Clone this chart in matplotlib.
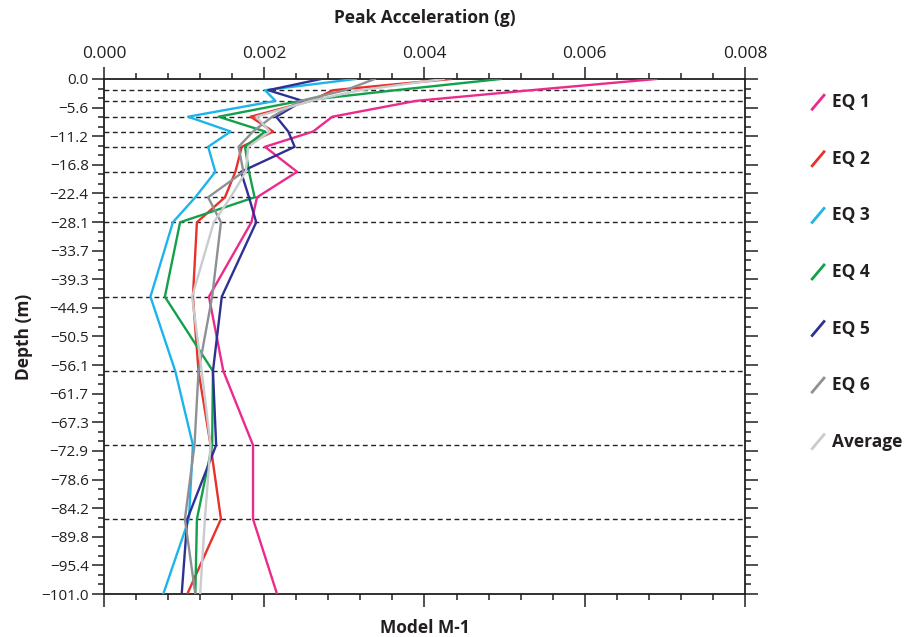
import numpy as np
import matplotlib.pyplot as plt
from matplotlib.lines import Line2D
from matplotlib.ticker import MultipleLocator, FixedLocator

# layer boundary depths (m) where the accelerations are recorded
depth = [0.0, -2.2, -4.3, -7.4, -10.3, -13.3, -18.2, -23.2, -28.1,
         -42.7, -57.3, -71.8, -86.3, -101.0]

# peak acceleration (g) at each depth
eq1 = [0.00689, 0.00533, 0.00389, 0.00285, 0.00261, 0.00201, 0.00241,
       0.00191, 0.00184, 0.00131, 0.00149, 0.00186, 0.00186, 0.00216]
eq2 = [0.00433, 0.00286, 0.00258, 0.00183, 0.00211, 0.00172, 0.00164,
       0.00151, 0.00116, 0.00111, 0.00118, 0.00133, 0.00146, 0.00104]
eq3 = [0.00314, 0.00201, 0.00214, 0.00105, 0.00158, 0.00130, 0.00139,
       0.00114, 0.00086, 0.00058, 0.00089, 0.00111, 0.00106, 0.00074]
eq4 = [0.00495, 0.00364, 0.00245, 0.00143, 0.00201, 0.00176, 0.00181,
       0.00188, 0.00095, 0.00076, 0.00136, 0.00135, 0.00116, 0.00114]
eq5 = [0.00271, 0.00205, 0.00248, 0.00215, 0.00230, 0.00238, 0.00171,
       0.00181, 0.00190, 0.00147, 0.00136, 0.00140, 0.00104, 0.00097]
eq6 = [0.00338, 0.00301, 0.00245, 0.00210, 0.00186, 0.00168, 0.00174,
       0.00130, 0.00146, 0.00135, 0.00118, 0.00113, 0.00101, 0.00114]
avg = [0.00424, 0.00320, 0.00258, 0.00190, 0.00207, 0.00180, 0.00177,
       0.00158, 0.00137, 0.00110, 0.00122, 0.00133, 0.00126, 0.00120]

names = ['EQ 1', 'EQ 2', 'EQ 3', 'EQ 4', 'EQ 5', 'EQ 6', 'Average']
series = [eq1, eq2, eq3, eq4, eq5, eq6, avg]
colors = ['#EC2A8C', '#E8312A', '#1DB4EA', '#12A04B', '#2E3192',
          '#8D9094', '#C9CBCE']

depth_ticks = ['0.0', '\u22125.6', '\u221211.2', '\u221216.8', '\u221222.4',
               '\u221228.1', '\u221233.7', '\u221239.3', '\u221244.9',
               '\u221250.5', '\u221256.1', '\u221261.7', '\u221267.3',
               '\u221272.9', '\u221278.6', '\u221284.2', '\u221289.8',
               '\u221295.4', '\u2212101.0']

plt.rcParams['font.family'] = ['Open Sans', 'DejaVu Sans']
txt = '#231F20'

fig = plt.figure(figsize=(9.08, 6.37), dpi=100)
ax = fig.add_axes([0.1145, 0.0675, 0.706, 0.8085])

# layer boundaries
for d in depth[1:-1]:
    ax.axhline(d, color='#222222', lw=1.0, ls=(0, (3.5, 2.5)), zorder=1)

for vals, c, n in zip(series, colors, names):
    ax.plot(vals, depth, color=c, lw=1.7, label=n, zorder=3)

ax.set_xlim(0, 0.008)
ax.set_ylim(-101.0, 0.0)

ax.xaxis.set_major_locator(MultipleLocator(0.002))
ax.xaxis.set_minor_locator(MultipleLocator(0.0004))
ax.tick_params(axis='x', which='both', top=True, bottom=True,
               labeltop=True, labelbottom=False, direction='out', color=txt)
ax.tick_params(axis='x', which='major', length=9, width=1.1,
               labelsize=12.5, labelcolor=txt, pad=3)
ax.tick_params(axis='x', which='minor', length=4.5, width=1.1)
ax.xaxis.set_major_formatter(lambda v, p: f'{v:.3f}')

yt = np.linspace(0, -101.0, 19)
ax.yaxis.set_major_locator(FixedLocator(yt))
ax.set_yticklabels(depth_ticks)
ax.yaxis.set_minor_locator(FixedLocator(np.linspace(0, -101.0, 55)))
ax.tick_params(axis='y', which='both', left=True, right=True,
               direction='out', color=txt)
ax.tick_params(axis='y', which='major', length=9, width=1.1,
               labelsize=11, labelcolor=txt, pad=2)
ax.tick_params(axis='y', which='minor', length=4.5, width=1.1)

for s in ax.spines.values():
    s.set_color(txt)
    s.set_linewidth(1.3)

ax.set_ylabel('Depth (m)', fontsize=12.5, fontweight='bold', color=txt,
              labelpad=6)
fig.text(0.4675, 0.972, 'Peak Acceleration (g)', ha='center', va='center',
         fontsize=12.5, fontweight='bold', color=txt)
fig.text(0.4675, 0.014, 'Model M-1', ha='center', va='center',
         fontsize=12.5, fontweight='bold', color=txt)

# legend on the right with slanted line keys
for i, (n, c) in enumerate(zip(names, colors)):
    yc = 0.8395 - i * 0.0888
    fig.add_artist(Line2D([0.8945, 0.9075], [yc - 0.011, yc + 0.011],
                          color=c, lw=2.0, transform=fig.transFigure))
    fig.text(0.916, yc, n, ha='left', va='center', fontsize=12.5,
             fontweight='bold', color=txt)

fig.savefig('out.png', dpi=100)
